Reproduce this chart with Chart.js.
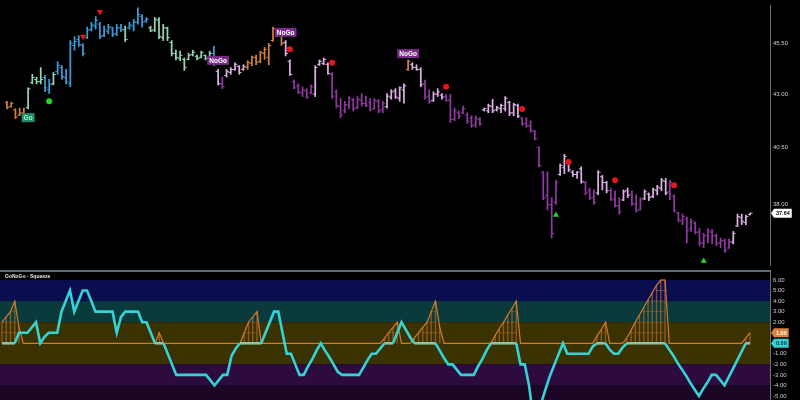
<!DOCTYPE html>
<html><head><meta charset="utf-8">
<script src="https://cdn.jsdelivr.net/npm/chart.js@4.4.1/dist/chart.umd.min.js"></script>
<style>
html,body{margin:0;padding:0;background:#000;width:800px;height:400px;overflow:hidden}
#wrap{position:relative;width:800px;height:400px;background:#000}
#pc{position:absolute;left:0;top:0}
#oc{position:absolute;left:0;top:270px}
#ttl{position:absolute;left:5px;top:273px;font:bold 5px "Liberation Sans",Arial,sans-serif;color:#e8e8e8;white-space:nowrap;z-index:5}
</style></head><body>
<div id="wrap">
<canvas id="pc" width="800" height="270"></canvas>
<canvas id="oc" width="800" height="130"></canvas>
<div id="ttl">GoNoGo - Squeeze</div>
</div>
<script>
// ---------------- DATA ----------------
const high = [42.65,42.61,42.29,42.33,42.33,43.30,43.96,43.82,44.29,43.91,
43.72,44.05,44.58,44.39,44.20,45.65,45.85,45.90,45.50,46.34,
46.59,46.89,46.59,46.39,46.49,46.34,46.49,46.49,46.39,46.59,
46.74,47.35,46.99,46.84,46.39,46.84,46.84,46.49,46.34,45.65,
45.16,45.11,44.77,45.01,45.16,44.92,45.11,44.92,45.11,45.35,
44.20,43.82,44.20,44.29,44.53,44.39,44.43,44.63,44.87,44.92,
45.11,45.30,45.50,46.34,46.24,46.00,45.65,44.67,43.68,43.49,
43.35,43.26,43.44,44.39,44.67,44.77,44.53,44.05,43.21,42.79,
42.65,42.88,42.79,42.88,43.02,42.90,42.79,42.79,42.75,42.65,
43.02,43.21,43.26,43.35,43.49,44.67,44.53,44.43,44.29,43.68,
43.21,43.11,43.26,43.02,42.98,42.98,42.33,42.19,42.42,42.11,
41.97,41.97,41.88,42.33,42.52,42.75,42.42,42.52,42.88,42.65,
42.56,42.52,41.88,41.88,41.74,41.29,40.54,39.43,39.43,38.30,
39.05,39.77,40.20,39.85,39.47,39.43,39.64,39.00,38.71,38.63,
39.47,39.26,39.00,38.71,38.59,38.30,38.63,38.71,38.59,38.42,
38.30,38.63,38.50,38.71,38.83,39.13,39.13,39.05,38.42,37.68,
37.60,37.48,37.40,37.28,37.00,36.80,37.00,36.96,36.77,36.61,
36.57,36.57,36.88,37.60,37.60,37.56,37.64];
const low = [42.29,42.38,41.84,41.97,41.84,42.29,43.49,43.49,43.49,43.11,
43.02,43.44,43.96,43.72,43.49,43.35,45.16,45.35,44.87,45.75,
46.14,46.24,45.75,45.85,46.00,45.85,45.90,46.10,45.60,46.24,
46.14,46.49,46.34,46.59,46.10,46.10,45.75,45.65,45.65,44.87,
44.67,44.63,44.15,44.67,44.87,44.67,44.77,44.67,44.67,44.39,
43.44,43.26,43.82,43.96,44.15,43.96,44.15,44.20,44.39,44.43,
44.53,44.70,44.43,45.60,45.85,45.40,44.87,43.91,43.26,43.02,
42.88,42.79,43.02,42.88,44.39,44.43,43.96,42.79,42.33,41.88,
42.11,42.29,42.19,42.29,42.42,42.40,42.19,42.29,42.11,42.11,
42.33,42.75,42.79,42.65,42.56,44.15,44.20,44.15,43.35,42.75,
42.56,42.65,42.88,42.75,42.65,41.65,41.74,41.84,42.06,41.61,
41.43,41.43,41.52,42.19,42.11,42.11,42.19,42.11,42.19,41.97,
41.97,41.88,41.52,41.43,41.20,40.85,39.64,38.21,37.77,36.61,
38.01,39.26,39.34,39.43,39.21,39.13,38.92,38.42,38.21,38.01,
38.42,38.63,38.50,38.17,37.89,37.60,38.17,38.30,37.97,37.68,
37.77,38.21,38.17,38.30,38.42,38.59,38.42,38.21,37.68,37.28,
37.16,36.41,36.88,36.77,36.29,36.21,36.41,36.37,36.29,36.21,
36.02,36.18,36.37,37.08,37.16,37.16,37.56];
const open = [42.60,42.40,42.25,42.00,42.10,42.35,43.55,43.70,43.60,43.80,
43.20,43.50,44.10,44.30,43.80,43.50,45.40,45.70,45.40,45.80,
46.20,46.40,46.50,45.90,46.10,46.30,46.00,46.30,46.20,46.30,
46.40,46.60,46.90,46.65,46.30,46.20,46.70,45.80,46.30,45.55,
45.00,44.75,44.70,44.70,44.95,44.85,44.80,44.90,44.75,45.00,
44.10,43.50,43.90,44.05,44.20,44.35,44.20,44.30,44.50,44.80,
44.60,45.00,44.80,45.65,46.20,45.95,45.55,44.60,43.60,43.40,
43.05,43.15,43.05,43.00,44.45,44.50,44.45,43.95,43.10,42.40,
42.20,42.45,42.70,42.35,42.70,42.55,42.60,42.30,42.65,42.25,
42.40,42.85,43.15,42.80,43.20,44.20,44.45,44.30,44.20,43.50,
42.90,42.70,43.00,42.95,42.90,42.70,41.80,42.10,42.10,42.00,
41.85,41.55,41.80,42.25,42.20,42.40,42.25,42.30,42.30,42.60,
42.10,42.45,41.85,41.60,41.50,41.25,40.50,39.40,38.40,38.00,
38.10,39.30,39.60,39.80,39.40,39.30,39.55,38.95,38.60,38.30,
38.50,39.20,38.95,38.60,38.20,37.95,38.20,38.60,38.45,38.00,
37.80,38.25,38.45,38.35,38.60,38.70,39.00,38.55,38.35,37.65,
37.30,37.40,37.00,37.20,36.85,36.40,36.70,36.85,36.70,36.40,
36.50,36.20,36.45,37.10,37.45,37.25,37.58];
const close = [42.35,42.55,41.90,42.10,41.95,43.25,43.80,43.60,43.70,43.30,
43.45,43.95,44.40,43.85,43.60,45.50,45.60,45.45,45.00,46.20,
46.45,46.70,45.85,46.20,46.35,45.95,46.30,46.20,45.70,46.45,
46.60,47.00,46.60,46.75,46.15,46.75,45.85,46.30,45.80,45.00,
44.80,44.90,44.30,44.90,45.05,44.75,45.05,44.75,45.00,44.50,
43.50,43.35,44.10,44.20,44.45,44.05,44.35,44.55,44.80,44.55,
45.05,45.20,45.40,46.25,45.95,45.50,45.00,43.95,43.30,43.10,
43.20,42.85,43.35,44.30,44.60,44.70,44.00,42.90,42.45,42.00,
42.50,42.80,42.30,42.75,42.55,42.45,42.25,42.70,42.20,42.55,
42.90,43.10,42.85,43.30,43.40,44.60,44.30,44.20,43.45,42.85,
42.65,43.00,43.10,42.85,42.70,41.80,42.20,41.95,42.30,41.70,
41.50,41.85,41.60,42.30,42.45,42.20,42.35,42.45,42.80,42.10,
42.50,41.95,41.60,41.50,41.30,40.90,39.70,38.30,38.00,36.80,
38.95,39.70,40.10,39.50,39.30,39.40,39.00,38.50,38.30,38.10,
39.40,38.95,38.60,38.25,37.95,37.70,38.55,38.40,38.05,37.75,
38.20,38.55,38.30,38.65,38.75,39.05,38.50,38.95,37.75,37.35,
37.50,36.90,37.30,36.85,36.40,36.70,36.90,36.70,36.40,36.50,
36.10,36.45,36.80,37.50,37.30,37.50,37.64];
// trend state per bar: O = amber, G = weak Go, B = strong Go, L = weak NoGo, P = strong NoGo
const trend = ("OOOOO"+"GGGG"+"BB"+"G"+"BBBBBBBBBBBBBBBB"+"G"+"BBBBB"+"GGGGGGGGGGGGGGG"+"B"+"L"+"P"+"LLLLL"+
  "OOOOOOOOO"+"LL"+"PPPPP"+"LLLL"+"PPPPPPPPPPPPP"+"LLLLL"+"O"+"LLL"+"PP"+"LLL"+"PPPPPPPPP"+"LLLLLLLLL"+
  "PPPPPPPPP"+"LLLLLL"+"PPP"+"LLL"+"PPP"+"LL"+"PPP"+"LLLLLL"+"PPPPPPPPPPPPPPP"+"LLLLL").split('');

const priceTicks = [38.00, 40.50, 43.00, 45.50];

const redDotIdx   = [67, 77, 104, 122, 133, 144, 158];
const redDotPrice = [45.21, 44.53, 43.35, 42.29, 39.85, 39.05, 38.83];
const redTriIdx   = [18, 22];
const redTriPrice = [45.85, 47.14];
const greenTriIdx   = [130, 165];
const greenTriPrice = [37.56, 35.68];
const greenDotIdx   = [10];
const greenDotPrice = [42.65];
const sigText  = ['Go', 'NoGo', 'NoGo', 'NoGo'];
const sigIdx   = [5, 50, 66, 95];
const sigPrice = [41.88, 44.65, 46.07, 44.99];

const osc = [0,0,0,0,1,1,1,1.5,2,0,
0.6,1,1,1,3,4,5,3,4,5,
5,4,3,3,3,3,3,1,2.5,3,
3,3,3,2,2,1,0,0,0,-1,
-2,-3,-3,-3,-3,-3,-3,-3,-3,-3.5,
-4,-3.5,-3,-3,-1.2,-0.5,0,0,0,0,
0,0,1,2,3,3,1,-1,-1,-2,
-3,-3,-2.2,-1.5,-0.7,0,-0.7,-1.3,-2,-2.7,
-3,-3,-3,-3,-3,-2.3,-1.6,-1,-1,-0.5,
0,0,0,1,2,1.3,0.6,0,0,0,
0,0,0,-0.7,-1.4,-2,-2,-2.5,-3,-3,
-3,-3,-2.2,-1.5,-0.7,0,0,0,0,0,
0,0,-2,-2,-4,-7,-7.5,-5.5,-4.2,-3,
-2,-1,0,-1,-1,-1,-1,-1,-1,-0.3,
0,0,0,-0.6,-1,-1,-0.4,0,0,0,
0,0,0,0,0,0,0,-0.6,-1.2,-1.9,
-2.5,-3.1,-3.8,-4.4,-5,-4.3,-3.7,-3,-3,-3.5,
-4,-3.2,-2.4,-1.6,-0.8,0,0];
const squeeze = [2,2.5,3,4,1.5,0,0,0,0,0,
0,0,0,0,0,0,0,0,0,0,
0,0,0,0,0,0,0,0,0,0,
0,0,0,0,0,0,0,1,0,0,
0,0,0,0,0,0,0,0,0,0,
0,0,0,0,0,0,0,1,2,2.5,
3,0,0,0,0,0,0,0,0,0,
0,0,0,0,0,0,0,0,0,0,
0,0,0,0,0,0,0,0,0,0,
0.5,1,1.5,2,0,0,0,0.5,1,1.5,
2,3,4,1.5,0,0,0,0,0,0,
0,0,0,0,0,0,0.7,1.4,2,2.7,
3.3,4,0,0,0,0,0,0,0,0,
0,0,0,0,0,0,0,0,0,0,
0.7,1.3,2,0,0,0,0,0.5,1.2,2,
2.7,3.4,4.1,4.8,5.5,6,6,0,0,0,
0,0,0,0,0,0,0,0,0,0,
0,0,0,0,0,0.5,1];
const oscTicks  = [-5,-4,-3,-2,-1,0,1,2,3,4,5,6];
const bandEdges = [6, 4, 2, -2, -4, -9];

// ---------------- STYLE ----------------
const trendColor = {O:'#cf7f3f', G:'#95d3b5', B:'#3d9bd2', L:'#d9b0e2', P:'#8d3a9e'};
const bandColors = ['#0b0e4e', '#0b3a3c', '#3a3201', '#2d0b3f', '#1b0626'];
const N = high.length;
const idx = high.map((_, i) => i);
const barCol = trend.map(t => trendColor[t]);
const X_MIN = -0.47, X_MAX = 180.7;
const TICK_OFF = 0.28;
const AXW = 30;

function drawTag(ctx, x, y, text, bg, fg) {
  ctx.save();
  ctx.font = 'bold 5.5px "Liberation Sans", Arial, sans-serif';
  const w = ctx.measureText(text).width + 4, h = 9;
  ctx.fillStyle = bg;
  ctx.beginPath();
  ctx.moveTo(x, y);
  ctx.lineTo(x + 3, y - h / 2);
  ctx.lineTo(x + 3 + w, y - h / 2);
  ctx.lineTo(x + 3 + w, y + h / 2);
  ctx.lineTo(x + 3, y + h / 2);
  ctx.closePath();
  ctx.fill();
  ctx.fillStyle = fg;
  ctx.textBaseline = 'middle';
  ctx.textAlign = 'left';
  ctx.fillText(text, x + 5, y + 0.5);
  ctx.restore();
}

const commonX = {type:'linear', min:X_MIN, max:X_MAX, display:false, offset:false};
function yAxis(extra) {
  return Object.assign({
    position:'right',
    grid:{display:false, drawTicks:false},
    border:{display:true, color:'#6f6f6f', width:1},
    ticks:{color:'#cfcfcf', font:{size:6, family:'"Liberation Sans", Arial, sans-serif'}, padding:3, autoSkip:false,
           callback: v => Number(v).toFixed(2)},
    afterFit: s => { s.width = AXW; s.paddingTop = 0; s.paddingBottom = 0; }
  }, extra);
}

// ---------------- PRICE CHART ----------------
const signalPlugin = {
  id:'signals',
  afterDatasetsDraw(chart) {
    const {ctx, scales:{x, y}} = chart;
    ctx.save();
    ctx.font = 'bold 6.5px "Liberation Sans", Arial, sans-serif';
    ctx.textAlign = 'center';
    ctx.textBaseline = 'middle';
    sigText.forEach((t, k) => {
      const px = x.getPixelForValue(sigIdx[k]);
      const py = y.getPixelForValue(sigPrice[k]);
      const w = ctx.measureText(t).width + 4, h = 9;
      ctx.fillStyle = t === 'Go' ? '#1c8d72' : '#7a2b88';
      ctx.fillRect(px - w / 2, py - h / 2, w, h);
      ctx.fillStyle = t === 'Go' ? '#9dffb0' : '#ffffff';
      ctx.fillText(t, px, py + 0.5);
    });
    ctx.restore();
  },
  afterDraw(chart) {
    const {ctx, chartArea, scales:{y}} = chart;
    const last = close[N - 1];
    drawTag(ctx, chartArea.right + 1, y.getPixelForValue(last), last.toFixed(2), '#ffffff', '#000000');
  }
};

new Chart(document.getElementById('pc'), {
  type:'line',
  data:{datasets:[
    {type:'scatter', data: redDotIdx.map((i,k)=>({x:i, y:redDotPrice[k]})), pointStyle:'circle', pointRadius:3,
     backgroundColor:'#e3161b', borderWidth:0, order:0},
    {type:'scatter', data: redTriIdx.map((i,k)=>({x:i, y:redTriPrice[k]})), pointStyle:'triangle', pointRotation:180, pointRadius:3.6,
     backgroundColor:'#e3161b', borderWidth:0, order:0},
    {type:'scatter', data: greenTriIdx.map((i,k)=>({x:i, y:greenTriPrice[k]})), pointStyle:'triangle', pointRadius:3.6,
     backgroundColor:'#22d42a', borderWidth:0, order:0},
    {type:'scatter', data: greenDotIdx.map((i,k)=>({x:i, y:greenDotPrice[k]})), pointStyle:'circle', pointRadius:3,
     backgroundColor:'#22d42a', borderWidth:0, order:0},
    {type:'scatter', data: idx.map(i=>({x:i - TICK_OFF, y:open[i]})), pointStyle:'line', pointRadius:1.2,
     pointBorderColor: barCol, pointBorderWidth:1, order:1},
    {type:'scatter', data: idx.map(i=>({x:i + TICK_OFF, y:close[i]})), pointStyle:'line', pointRadius:1.2,
     pointBorderColor: barCol, pointBorderWidth:1, order:1},
    {type:'bar', data: idx.map(i=>({x:i, y:[low[i], high[i]]})), backgroundColor: barCol, barThickness:1.1,
     grouped:false, order:2}
  ]},
  options:{
    responsive:false, animation:false, devicePixelRatio:1,
    layout:{padding:0},
    plugins:{legend:{display:false}, tooltip:{enabled:false}, title:{display:false}},
    scales:{
      x: commonX,
      y: yAxis({type:'logarithmic', min:35.52, max:47.5,
        afterBuildTicks: s => { s.ticks = priceTicks.map(v => ({value:v})); }})
    }
  },
  plugins:[signalPlugin]
});

// ---------------- SQUEEZE / OSCILLATOR CHART ----------------
const bandPlugin = {
  id:'bands',
  beforeDatasetsDraw(chart) {
    const {ctx, chartArea:a, scales:{y}} = chart;
    ctx.save();
    for (let k = 0; k < bandColors.length; k++) {
      const y1 = Math.max(a.top, y.getPixelForValue(bandEdges[k]));
      const y2 = Math.min(a.bottom, y.getPixelForValue(bandEdges[k + 1]));
      ctx.fillStyle = bandColors[k];
      ctx.fillRect(a.left, y1, a.right - a.left, y2 - y1);
    }
    ctx.restore();
  },
  afterDraw(chart) {
    const {ctx, chartArea:a, scales:{y}} = chart;
    ctx.save();
    ctx.strokeStyle = '#5e6c7c';
    ctx.lineWidth = 2;
    ctx.beginPath();
    ctx.moveTo(a.left, a.top + 1);
    ctx.lineTo(a.right, a.top + 1);
    ctx.stroke();
    ctx.restore();
    const sq = squeeze[N - 1], ov = osc[N - 1];
    drawTag(ctx, a.right + 1, y.getPixelForValue(sq), sq.toFixed(2), '#d9823c', '#ffffff');
    drawTag(ctx, a.right + 1, y.getPixelForValue(ov), ov.toFixed(2), '#35cfd2', '#0b2a3a');
  }
};

const rungSets = [1,2,3,4,5,6].map(k => ({
  type:'line',
  data: idx.map(i => ({x:i, y: squeeze[i] >= k ? k : null})),
  borderColor: k >= 5 ? 'rgba(181,122,166,0.8)' : 'rgba(200,118,44,0.75)',
  borderWidth:0.6, pointRadius:0, spanGaps:false, order:3
}));

new Chart(document.getElementById('oc'), {
  type:'line',
  data:{datasets:[
    {type:'line', data: idx.map(i=>({x:i, y:osc[i]})), borderColor:'#36d3d6', borderWidth:2.6, pointRadius:0,
     tension:0, order:0,
     segment:{borderColor: c => (c.p0.parsed.y === 0 && c.p1.parsed.y === 0) ? '#86c6b0' : undefined}},
    {type:'line', data: idx.map(i=>({x:i, y:squeeze[i]})), borderColor:'#d27a2c', borderWidth:1.2, pointRadius:0,
     tension:0, order:1},
    ...rungSets,
    {type:'bar', data: idx.map(i=>({x:i, y: squeeze[i] > 0 ? squeeze[i] : null})), backgroundColor:'rgba(200,118,44,0.6)',
     barThickness:0.7, grouped:false, order:4}
  ]},
  options:{
    responsive:false, animation:false, devicePixelRatio:1,
    layout:{padding:0},
    plugins:{legend:{display:false}, tooltip:{enabled:false}, title:{display:false}},
    scales:{
      x: commonX,
      y: yAxis({type:'linear', min:-5.38, max:6.95,
        afterBuildTicks: s => { s.ticks = oscTicks.map(v => ({value:v})); }})
    }
  },
  plugins:[bandPlugin]
});
</script>
</body></html>
